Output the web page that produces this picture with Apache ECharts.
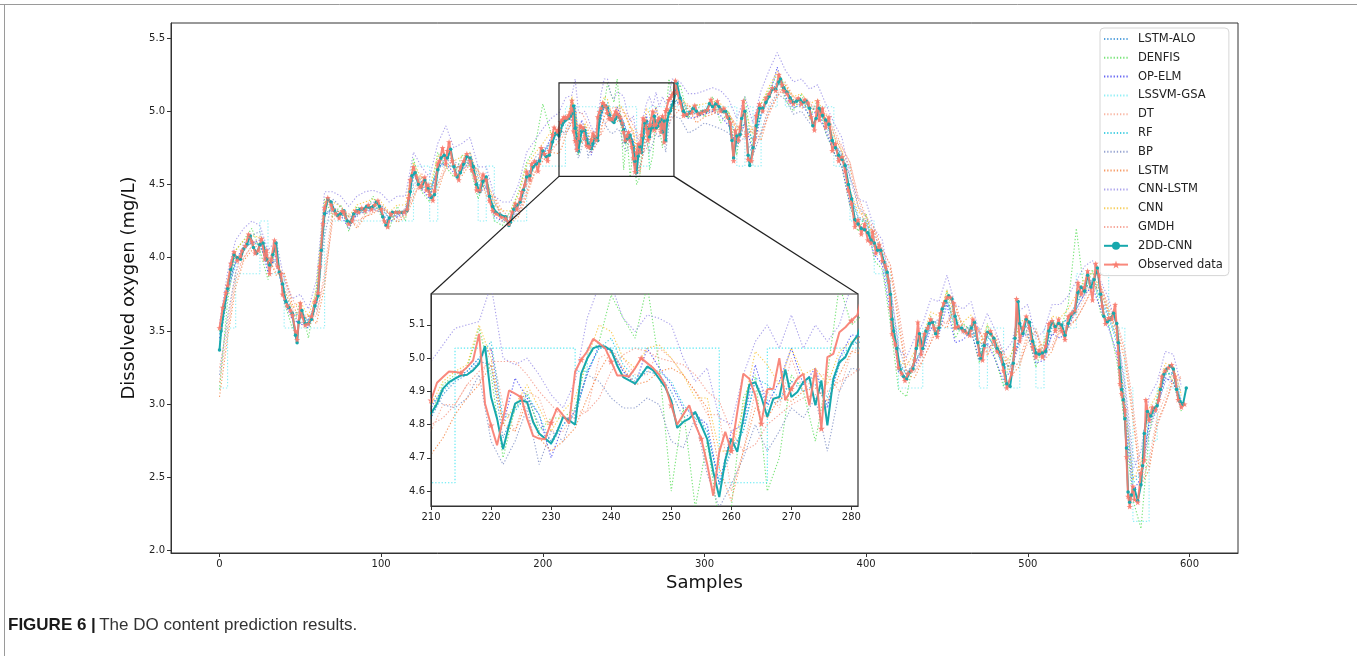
<!DOCTYPE html>
<html><head><meta charset="utf-8">
<script src="https://cdn.jsdelivr.net/npm/echarts@6/dist/echarts.min.js"></script>
<style>html,body{margin:0;padding:0;background:#fff;}#c{width:1357px;height:656px;}</style>
</head><body><div id="c"></div>
<script>
// ---------- tick labels ----------
const xTicks = [0, 100, 200, 300, 400, 500, 600];
const yTicks = [2.0, 2.5, 3.0, 3.5, 4.0, 4.5, 5.0, 5.5];
const insetXTicks = [210, 220, 230, 240, 250, 260, 270, 280];
const insetYTicks = [4.6, 4.7, 4.8, 4.9, 5.0, 5.1];

// ---------- sample positions shared by the 11 comparison models ----------
const modelSamples = [0,5,10,15,20,25,30,35,40,45,50,55,60,65,70,75,80,85,90,95,100,105,110,115,120,125,130,135,140,145,150,155,160,165,170,175,180,185,190,195,200,205,
210,212,214,216,218,220,222,224,226,228,230,232,234,236,238,240,242,244,246,248,250,252,254,256,258,260,262,264,266,268,270,272,274,276,278,280,
285,290,295,300,305,310,315,320,325,330,335,340,345,350,355,360,365,370,375,380,385,390,395,400,405,410,415,420,425,430,435,440,445,450,455,460,465,470,475,480,485,490,495,500,505,510,515,520,525,530,535,540,545,550,555,560,565,570,575,580,585,590,595];

const lstmAlo = [3.40,3.75,3.96,4.05,4.12,4.08,3.95,3.98,3.76,3.60,3.62,3.57,3.70,4.28,4.35,4.30,4.25,4.29,4.34,4.33,4.35,4.27,4.29,4.32,4.55,4.52,4.45,4.60,4.68,4.62,4.62,4.68,4.50,4.48,4.33,4.26,4.28,4.35,4.55,4.65,4.70,4.78,
4.82,4.89,4.93,4.95,4.99,4.98,4.76,4.85,4.88,4.80,4.75,4.82,4.82,4.96,5.03,5.03,4.96,4.93,4.96,4.95,4.90,4.82,4.84,4.78,4.62,4.72,4.78,4.93,4.86,4.87,4.93,4.90,4.92,4.86,4.98,5.04,
5.10,5.00,4.98,5.01,5.00,5.02,4.96,4.83,4.92,4.80,4.97,5.10,5.20,5.15,5.06,5.06,5.02,5.01,4.93,4.79,4.70,4.45,4.28,4.25,4.08,4.01,3.72,3.30,3.20,3.28,3.38,3.55,3.57,3.70,3.55,3.50,3.54,3.37,3.46,3.39,3.25,3.27,3.46,3.55,3.35,3.35,3.52,3.55,3.58,3.68,3.78,3.86,3.73,3.60,3.45,3.02,2.50,2.52,2.88,3.00,3.20,3.22,3.02];

const denfis = [3.10,3.70,4.05,4.12,4.20,4.05,3.85,4.08,3.70,3.52,3.70,3.45,3.80,4.40,4.28,4.36,4.18,4.35,4.30,4.42,4.28,4.20,4.35,4.25,4.68,4.45,4.38,4.72,4.62,4.55,4.70,4.62,4.40,4.55,4.25,4.22,4.32,4.45,4.65,4.75,5.05,4.85,
4.83,4.92,4.95,4.97,5.09,4.95,4.70,4.85,4.90,4.78,4.82,4.82,4.85,5.00,5.05,5.19,5.12,5.06,5.22,4.98,4.60,4.85,4.55,4.75,4.50,4.55,4.88,4.95,4.60,4.70,4.95,4.90,4.75,4.95,5.22,5.10,
5.18,4.95,5.05,4.96,5.10,4.92,5.00,4.70,5.10,4.70,5.05,5.15,5.25,5.08,5.00,5.12,4.95,5.08,4.85,4.72,4.62,4.35,4.18,4.30,3.98,3.92,3.55,3.10,3.05,3.35,3.45,3.60,3.48,3.78,3.45,3.55,3.50,3.28,3.55,3.30,3.12,3.35,3.55,3.48,3.25,3.42,3.58,3.50,3.68,4.20,3.75,3.92,3.62,3.55,3.30,2.85,2.35,2.15,2.80,3.05,3.25,3.15,2.95];

const opElm = [3.45,3.78,3.98,4.08,4.10,4.12,3.90,4.02,3.70,3.58,3.55,3.52,3.72,4.30,4.32,4.29,4.20,4.30,4.31,4.33,4.31,4.24,4.28,4.30,4.58,4.47,4.40,4.62,4.64,4.58,4.60,4.65,4.44,4.48,4.28,4.25,4.25,4.36,4.56,4.64,4.70,4.82,
4.85,4.91,4.94,4.96,5.00,5.03,4.80,4.94,4.88,4.83,4.70,4.80,4.84,4.95,5.04,5.02,4.96,4.92,5.03,4.97,4.92,4.85,4.83,4.80,4.62,4.78,4.80,4.98,4.86,4.93,5.03,4.92,4.97,4.85,5.00,5.07,
5.05,4.95,4.96,4.98,5.00,4.97,4.90,4.76,4.92,4.72,4.98,5.10,5.30,5.10,5.02,5.05,4.97,5.00,4.86,4.72,4.62,4.36,4.22,4.20,4.02,3.95,3.62,3.22,3.18,3.26,3.35,3.52,3.48,3.68,3.42,3.44,3.50,3.30,3.42,3.30,3.16,3.24,3.45,3.48,3.28,3.30,3.48,3.45,3.52,3.65,3.75,3.80,3.65,3.52,3.35,2.92,2.40,2.50,2.86,2.98,3.18,3.15,2.96];

const lssvmGsa = [3.11,3.52,3.89,3.89,3.89,4.25,3.89,3.89,3.52,3.52,3.52,3.52,3.52,4.25,4.25,4.25,4.25,4.25,4.25,4.25,4.25,4.25,4.25,4.25,4.625,4.625,4.25,4.625,4.625,4.625,4.625,4.625,4.25,4.625,4.25,4.25,4.25,4.25,4.625,4.625,4.625,4.625,
4.625,4.625,5.03,5.03,5.03,5.03,5.03,5.03,5.03,5.03,5.03,5.03,4.96,5.03,5.03,5.03,5.03,5.03,5.03,5.03,5.03,5.03,5.03,5.03,4.625,4.625,4.625,4.625,5.03,5.03,5.03,5.03,5.03,5.03,5.03,5.03,
5.03,5.03,5.03,5.03,5.03,5.03,5.03,4.625,5.03,4.625,5.03,5.03,5.2,5.03,5.03,5.03,5.03,5.03,5.03,4.625,4.625,4.25,4.25,4.25,3.89,3.89,3.52,3.11,3.11,3.11,3.52,3.52,3.52,3.52,3.52,3.52,3.52,3.11,3.52,3.52,3.11,3.11,3.52,3.52,3.11,3.52,3.52,3.52,3.52,3.89,3.89,3.89,3.89,3.52,3.52,3.11,2.2,2.2,2.75,3.11,3.11,3.11,3.11];

const dt = [3.25,3.55,3.90,4.00,4.08,4.15,4.00,3.90,3.85,3.65,3.55,3.60,3.60,3.90,4.35,4.30,4.28,4.22,4.30,4.32,4.36,4.30,4.25,4.30,4.45,4.58,4.45,4.50,4.65,4.65,4.58,4.68,4.58,4.45,4.40,4.25,4.25,4.30,4.45,4.62,4.68,4.75,
4.78,4.86,4.86,4.92,4.92,5.03,4.86,4.78,4.90,4.88,4.78,4.78,4.84,4.84,5.00,5.02,5.00,4.95,4.95,5.03,5.00,4.95,4.90,4.83,4.83,4.60,4.72,4.90,4.90,4.85,5.00,4.90,4.95,4.95,4.90,5.02,
5.05,5.05,4.95,5.00,5.00,5.02,4.98,4.90,4.85,4.90,4.85,5.05,5.12,5.20,5.10,5.05,5.05,5.00,5.00,4.85,4.75,4.65,4.40,4.25,4.20,4.05,3.95,3.60,3.22,3.22,3.35,3.45,3.58,3.55,3.70,3.52,3.50,3.52,3.35,3.48,3.35,3.22,3.30,3.50,3.52,3.32,3.40,3.55,3.55,3.62,3.72,3.85,3.82,3.65,3.55,3.35,2.95,2.45,2.62,2.92,3.05,3.22,3.18];

const rf = [3.48,3.80,3.97,4.06,4.10,4.09,3.94,3.99,3.74,3.62,3.63,3.56,3.72,4.30,4.34,4.30,4.24,4.30,4.32,4.34,4.33,4.27,4.30,4.31,4.58,4.50,4.44,4.62,4.65,4.61,4.63,4.66,4.48,4.49,4.31,4.28,4.27,4.37,4.56,4.65,4.71,4.79,
4.86,4.90,4.94,4.96,5.00,5.05,4.82,4.84,4.89,4.83,4.74,4.80,4.83,4.96,5.03,5.06,4.98,4.94,4.97,4.96,4.93,4.86,4.82,4.78,4.62,4.73,4.78,4.94,4.92,4.88,4.93,4.92,4.95,4.88,5.00,5.04,
5.07,4.99,4.99,5.00,5.01,5.01,4.95,4.82,4.93,4.80,4.98,5.11,5.20,5.14,5.06,5.06,5.01,5.02,4.91,4.78,4.69,4.43,4.27,4.24,4.07,4.00,3.70,3.28,3.20,3.29,3.39,3.56,3.55,3.71,3.53,3.50,3.54,3.36,3.47,3.38,3.24,3.27,3.48,3.54,3.34,3.35,3.53,3.54,3.59,3.69,3.79,3.84,3.71,3.59,3.42,3.00,2.46,2.52,2.90,3.01,3.21,3.21,3.01];

const bp = [3.20,3.60,3.90,4.10,4.15,4.18,4.00,3.95,3.80,3.62,3.55,3.58,3.65,4.15,4.40,4.35,4.28,4.28,4.35,4.38,4.36,4.30,4.28,4.34,4.50,4.55,4.48,4.58,4.70,4.66,4.62,4.72,4.55,4.48,4.38,4.28,4.25,4.32,4.50,4.68,4.74,4.78,
4.90,4.86,4.85,4.88,4.95,4.75,4.68,4.75,4.85,4.68,4.78,4.75,4.85,4.95,4.93,4.88,4.85,4.85,4.88,4.86,4.75,4.73,4.82,4.65,4.55,4.62,4.70,4.80,4.72,4.78,4.85,4.82,4.88,4.72,4.90,4.97,
4.95,4.85,4.88,4.92,4.90,4.88,4.85,4.78,4.82,4.70,4.85,5.02,5.12,5.08,4.98,5.00,4.92,4.95,4.88,4.75,4.72,4.55,4.35,4.28,4.15,4.05,3.80,3.40,3.22,3.28,3.38,3.55,3.58,3.70,3.60,3.48,3.52,3.42,3.40,3.40,3.28,3.25,3.42,3.52,3.38,3.32,3.48,3.52,3.55,3.65,3.75,3.85,3.78,3.62,3.50,3.15,2.65,2.48,2.80,2.98,3.15,3.22,3.08];

const lstm = [3.05,3.45,3.80,3.98,4.05,4.10,4.02,3.88,3.90,3.68,3.58,3.60,3.55,3.80,4.30,4.32,4.28,4.20,4.28,4.30,4.34,4.30,4.24,4.28,4.40,4.56,4.45,4.45,4.62,4.64,4.56,4.64,4.60,4.42,4.42,4.26,4.24,4.28,4.42,4.58,4.66,4.72,
4.71,4.76,4.83,4.88,4.92,4.98,4.80,4.78,4.87,4.76,4.72,4.75,4.79,4.88,4.96,5.02,4.97,4.92,4.93,4.96,4.97,4.95,4.90,4.85,4.67,4.57,4.72,4.85,4.82,4.88,4.87,4.90,4.91,4.87,4.95,5.02,
5.00,5.02,4.92,4.96,4.98,5.00,4.97,4.88,4.82,4.88,4.80,5.00,5.10,5.18,5.08,5.02,5.04,4.98,4.98,4.84,4.72,4.62,4.35,4.22,4.18,4.00,3.92,3.55,3.20,3.18,3.30,3.42,3.55,3.52,3.68,3.50,3.46,3.50,3.33,3.45,3.32,3.20,3.26,3.46,3.50,3.30,3.36,3.52,3.52,3.58,3.68,3.80,3.80,3.62,3.52,3.30,2.90,2.45,2.55,2.88,3.00,3.18,3.16];

const cnnLstm = [3.55,3.90,4.12,4.20,4.25,4.22,4.05,4.12,3.85,3.72,3.75,3.65,3.85,4.45,4.45,4.42,4.35,4.42,4.45,4.46,4.44,4.38,4.42,4.42,4.72,4.62,4.55,4.78,4.90,4.75,4.78,4.82,4.62,4.62,4.42,4.38,4.38,4.50,4.72,4.80,4.88,4.95,
4.99,5.04,5.09,5.10,5.11,5.22,5.00,4.98,5.00,4.95,4.89,4.85,4.93,5.12,5.22,5.22,5.12,5.08,5.13,5.12,5.10,5.00,4.93,4.97,4.82,4.80,4.95,5.05,5.10,5.03,5.13,5.03,5.10,5.05,5.10,5.22,
5.20,5.12,5.12,5.14,5.16,5.14,5.08,4.95,5.10,4.92,5.14,5.28,5.40,5.28,5.20,5.22,5.15,5.18,5.05,4.92,4.82,4.55,4.40,4.38,4.20,4.12,3.80,3.38,3.32,3.45,3.55,3.72,3.70,3.88,3.68,3.65,3.70,3.48,3.62,3.50,3.35,3.42,3.64,3.68,3.45,3.50,3.68,3.68,3.74,3.84,3.94,3.98,3.84,3.72,3.52,3.10,2.55,2.68,3.05,3.15,3.36,3.34,3.12];

const cnn = [3.50,3.85,4.05,4.12,4.15,4.14,3.97,4.05,3.78,3.66,3.70,3.60,3.78,4.38,4.38,4.35,4.28,4.36,4.38,4.40,4.38,4.31,4.36,4.36,4.65,4.54,4.48,4.69,4.72,4.66,4.69,4.72,4.52,4.55,4.36,4.32,4.32,4.43,4.63,4.71,4.78,4.86,
4.86,4.93,4.96,4.98,5.10,5.00,4.80,4.86,4.92,4.85,4.78,4.84,4.88,5.00,5.10,5.08,5.00,4.97,5.03,5.04,5.00,4.95,4.88,4.88,4.72,4.72,4.85,5.02,4.98,4.92,5.03,4.95,4.97,4.92,5.02,5.05,
5.10,5.03,5.04,5.05,5.07,5.05,4.99,4.86,5.00,4.84,5.05,5.17,5.27,5.18,5.10,5.12,5.05,5.08,4.95,4.82,4.73,4.46,4.31,4.29,4.10,4.04,3.72,3.30,3.26,3.36,3.46,3.63,3.60,3.78,3.58,3.56,3.61,3.40,3.54,3.43,3.28,3.34,3.56,3.59,3.38,3.42,3.60,3.59,3.65,3.75,3.85,3.90,3.76,3.64,3.46,3.02,2.48,2.60,2.97,3.07,3.28,3.26,3.06];

const gmdh = [3.15,3.50,3.85,4.00,4.08,4.12,4.05,3.95,3.88,3.72,3.62,3.60,3.62,3.85,4.25,4.32,4.30,4.25,4.28,4.31,4.34,4.31,4.27,4.29,4.42,4.52,4.48,4.50,4.60,4.64,4.60,4.64,4.60,4.50,4.42,4.32,4.27,4.30,4.45,4.58,4.66,4.72,
4.80,4.82,4.86,4.92,4.96,4.99,4.99,4.99,4.95,4.90,4.86,4.82,4.82,4.84,4.88,4.96,5.01,5.03,5.02,5.00,4.99,4.98,4.95,4.90,4.87,4.78,4.72,4.74,4.80,4.83,4.86,4.88,4.89,4.90,4.93,4.95,
5.02,5.04,4.98,4.98,4.99,5.00,4.98,4.90,4.86,4.86,4.84,4.98,5.10,5.16,5.10,5.06,5.05,5.02,4.98,4.88,4.76,4.65,4.42,4.28,4.20,4.06,3.95,3.65,3.30,3.22,3.30,3.42,3.54,3.56,3.64,3.54,3.50,3.50,3.38,3.42,3.35,3.26,3.28,3.42,3.50,3.36,3.38,3.50,3.54,3.58,3.68,3.78,3.80,3.68,3.56,3.38,3.00,2.55,2.58,2.85,3.00,3.15,3.18];

// ---------- proposed model and observations: [sample, value] ----------
const cnn2dd = [[0,3.37],[1,3.50],[3,3.66],[5,3.79],[7,3.92],[9,4.02],[11,4.00],[13,3.99],[15,4.06],[17,4.09],[19,4.15],[21,4.07],[23,4.03],[25,4.09],[27,4.10],[29,3.99],[31,3.95],[33,4.02],[35,4.10],[37,3.90],[39,3.82],[41,3.70],[43,3.66],[45,3.62],[47,3.47],[48,3.42],[49,3.56],[51,3.64],[53,3.55],[55,3.55],[57,3.58],[59,3.67],[61,3.74],[63,4.05],[65,4.30],[67,4.40],[69,4.38],[71,4.32],[73,4.29],[75,4.30],[77,4.32],[79,4.25],[81,4.24],[83,4.30],[85,4.32],[87,4.33],[89,4.33],[91,4.35],[93,4.34],[95,4.35],[97,4.38],[99,4.35],[101,4.28],[103,4.22],[105,4.27],[107,4.31],[110,4.31],[113,4.31],[116,4.32],[118,4.45],[119,4.56],[121,4.58],[123,4.50],[125,4.48],[127,4.53],[129,4.47],[131,4.41],[133,4.43],[135,4.60],[137,4.68],[139,4.70],[141,4.68],[143,4.74],[145,4.62],[147,4.55],[149,4.58],[151,4.64],[153,4.69],[155,4.68],[157,4.62],[159,4.50],[161,4.45],[163,4.52],[165,4.55],[167,4.42],[169,4.35],[171,4.31],[174,4.29],[177,4.28],[179,4.22],[180,4.24],[182,4.33],[184,4.36],[186,4.38],[188,4.46],[190,4.55],[192,4.56],[194,4.62],[196,4.64],[198,4.66],[200,4.73],[202,4.69],[204,4.70],[206,4.79],[208,4.85],
[210,4.833],[211,4.863],[212,4.908],[213,4.928],[214,4.938],[215,4.948],[216,4.95],[217,4.963],[218,4.983],[219,5.036],[220,4.883],[221,4.818],[222,4.726],[223,4.798],[224,4.863],[225,4.873],[226,4.868],[227,4.808],[228,4.773],[229,4.758],[230,4.743],[231,4.778],[232,4.823],[233,4.813],[234,4.80],[235,4.953],[236,4.998],[237,5.03],[238,5.036],[239,5.035],[240,5.023],[241,4.978],[242,4.943],[243,4.933],[244,4.923],[245,4.948],[246,4.975],[247,4.963],[248,4.938],[249,4.913],[250,4.873],[251,4.79],[252,4.808],[253,4.818],[254,4.838],[255,4.798],[256,4.756],[257,4.658],[258,4.582],[259,4.693],[260,4.758],[261,4.718],[262,4.818],[263,4.92],[264,4.928],[265,4.883],[266,4.823],[267,4.878],[268,4.883],[269,4.966],[270,4.883],[271,4.898],[272,4.928],[273,4.943],[274,4.858],[275,4.933],[276,4.798],[277,4.938],[278,4.988],[279,5.003],[280,5.043],[281,5.068],
[282,5.12],[283,5.19],[285,5.09],[287,5.00],[289,4.97],[291,4.99],[293,5.02],[295,5.00],[297,4.98],[299,5.00],[301,5.00],[303,5.05],[305,5.03],[307,5.05],[309,5.03],[311,5.00],[313,5.00],[315,4.95],[317,4.80],[318,4.68],[320,4.83],[322,4.84],[323,4.95],[325,5.00],[327,4.70],[328,4.63],[330,4.75],[332,4.90],[334,5.02],[336,5.02],[338,5.06],[340,5.10],[342,5.15],[344,5.15],[346,5.20],[347,5.22],[349,5.16],[351,5.13],[353,5.09],[355,5.06],[357,5.07],[359,5.08],[361,5.06],[363,5.07],[365,5.02],[367,4.90],[369,4.95],[371,5.02],[373,4.97],[375,4.94],[377,4.91],[379,4.80],[381,4.75],[383,4.70],[385,4.67],[387,4.63],[389,4.50],[391,4.40],[393,4.26],[395,4.23],[397,4.20],[399,4.19],[401,4.17],[403,4.12],[405,4.10],[407,4.05],[409,4.05],[411,3.97],[413,3.90],[415,3.75],[416,3.58],[417,3.50],[419,3.38],[421,3.24],[423,3.19],[425,3.17],[427,3.22],[429,3.24],[431,3.38],[433,3.48],[435,3.38],[437,3.50],[439,3.55],[441,3.56],[443,3.48],[445,3.52],[447,3.65],[449,3.70],[451,3.74],[453,3.72],[455,3.60],[457,3.52],[459,3.52],[461,3.50],[463,3.48],[465,3.52],[467,3.56],[469,3.42],[471,3.31],[473,3.40],[475,3.49],[477,3.48],[479,3.45],[481,3.38],[483,3.35],[485,3.27],[487,3.14],[489,3.12],[491,3.28],[492,3.45],[494,3.70],[495,3.55],[497,3.48],[499,3.58],[501,3.56],[503,3.43],[505,3.35],[507,3.34],[509,3.35],[511,3.36],[513,3.50],[515,3.56],[517,3.53],[519,3.55],[521,3.54],[523,3.47],[525,3.55],[527,3.61],[529,3.63],[531,3.76],[533,3.80],[535,3.77],[537,3.88],[539,3.80],[541,3.85],[543,3.93],[545,3.75],[547,3.60],[549,3.56],[551,3.58],[553,3.62],[555,3.55],[556,3.42],[557,3.25],[558,3.10],[559,3.03],[560,2.90],[561,2.70],[562,2.40],[563,2.33],[564,2.38],[566,2.42],[568,2.34],[570,2.45],[571,2.58],[572,2.80],[574,2.95],[576,2.92],[578,2.97],[580,2.99],[582,3.10],[584,3.20],[586,3.24],[588,3.26],[590,3.24],[592,3.10],[594,3.02],[596,3.00],[598,3.11]];

const observed = [[0,3.52],[2,3.66],[4,3.76],[5,3.81],[7,3.96],[9,4.04],[11,3.98],[13,4.01],[14,4.05],[16,4.08],[18,4.16],[20,4.11],[22,4.03],[24,4.05],[26,4.13],[28,3.99],[29,4.05],[31,3.89],[32,3.99],[34,4.12],[36,3.94],[38,3.89],[39,3.75],[42,3.67],[44,3.64],[45,3.61],[47,3.50],[48,3.44],[50,3.69],[51,3.60],[53,3.54],[55,3.55],[57,3.60],[59,3.70],[61,3.76],[62,3.94],[64,4.23],[65,4.34],[67,4.41],[69,4.36],[70,4.33],[72,4.30],[74,4.27],[76,4.32],[77,4.31],[80,4.23],[82,4.25],[84,4.32],[86,4.31],[88,4.34],[90,4.32],[92,4.36],[94,4.33],[96,4.36],[98,4.39],[100,4.33],[102,4.25],[104,4.21],[106,4.30],[109,4.31],[111,4.31],[114,4.31],[116,4.33],[117,4.41],[118,4.53],[120,4.62],[122,4.55],[124,4.48],[125,4.49],[127,4.55],[128,4.46],[129,4.50],[130,4.43],[132,4.39],[133,4.46],[135,4.64],[136,4.66],[138,4.75],[140,4.64],[141,4.73],[142,4.79],[144,4.66],[146,4.57],[148,4.53],[149,4.62],[151,4.66],[153,4.71],[155,4.66],[156,4.60],[158,4.55],[159,4.46],[161,4.46],[163,4.57],[165,4.53],[167,4.39],[169,4.32],[171,4.30],[174,4.28],[177,4.27],[179,4.23],[181,4.31],[183,4.37],[184,4.33],[186,4.40],[187,4.45],[189,4.50],[190,4.59],[192,4.53],[193,4.64],[195,4.66],[197,4.59],[199,4.75],[201,4.71],[203,4.66],[204,4.73],[206,4.84],[207,4.89],[209,4.86],
[210,4.873],[211,4.926],[212,4.943],[213,4.96],[214,4.958],[215,4.956],[216,4.973],[217,4.993],[218,5.073],[219,4.863],[220,4.798],[221,4.738],[222,4.818],[223,4.903],[224,4.893],[225,4.883],[226,4.818],[227,4.766],[228,4.758],[229,4.756],[230,4.806],[231,4.85],[232,4.828],[233,4.803],[234,4.96],[235,4.995],[236,5.02],[237,5.058],[238,5.045],[239,5.03],[240,4.99],[241,4.948],[242,4.948],[243,4.945],[244,4.97],[245,5.0],[246,4.985],[247,4.97],[248,4.95],[249,4.92],[250,4.858],[251,4.80],[252,4.83],[253,4.858],[254,4.80],[255,4.758],[256,4.68],[257,4.586],[258,4.718],[259,4.778],[260,4.721],[261,4.838],[262,4.953],[263,4.938],[264,4.888],[265,4.803],[266,4.906],[267,4.908],[268,5.0],[269,4.873],[270,4.908],[271,4.938],[272,4.953],[273,4.858],[274,4.968],[275,4.788],[276,5.003],[277,5.013],[278,5.078],[279,5.093],[280,5.113],[281,5.13],
[282,5.21],[283,5.13],[285,5.06],[287,4.97],[289,4.98],[292,4.99],[294,5.04],[296,4.98],[298,4.99],[300,5.00],[302,5.01],[304,5.08],[306,5.01],[308,5.07],[310,5.00],[312,5.02],[314,4.96],[316,4.92],[318,4.66],[319,4.87],[321,4.80],[322,4.89],[324,5.07],[326,4.84],[327,4.67],[329,4.66],[331,4.81],[332,4.97],[334,5.05],[336,5.00],[338,5.09],[340,5.12],[342,5.16],[344,5.14],[346,5.25],[348,5.18],[349,5.14],[351,5.12],[353,5.07],[355,5.05],[358,5.09],[360,5.05],[362,5.08],[364,5.06],[366,4.96],[368,4.87],[370,5.07],[371,4.94],[373,5.02],[375,4.89],[377,4.96],[379,4.73],[381,4.78],[383,4.66],[385,4.69],[387,4.59],[389,4.46],[391,4.37],[393,4.21],[395,4.26],[397,4.16],[399,4.23],[401,4.12],[403,4.10],[404,4.18],[406,4.03],[408,4.09],[410,3.98],[412,3.94],[414,3.84],[415,3.66],[416,3.48],[418,3.41],[420,3.25],[422,3.21],[424,3.16],[426,3.21],[428,3.23],[430,3.30],[432,3.56],[434,3.34],[436,3.48],[438,3.52],[440,3.58],[442,3.52],[444,3.46],[446,3.62],[448,3.69],[450,3.73],[452,3.73],[454,3.69],[455,3.52],[457,3.53],[460,3.50],[462,3.49],[464,3.47],[466,3.58],[468,3.52],[470,3.34],[472,3.30],[474,3.48],[477,3.50],[479,3.43],[481,3.36],[483,3.34],[485,3.23],[487,3.11],[490,3.21],[492,3.38],[493,3.72],[495,3.43],[497,3.52],[499,3.60],[501,3.52],[503,3.39],[505,3.32],[507,3.37],[509,3.32],[511,3.40],[513,3.55],[515,3.57],[517,3.50],[519,3.58],[521,3.50],[523,3.44],[525,3.60],[527,3.62],[529,3.64],[531,3.83],[533,3.75],[535,3.80],[537,3.91],[540,3.71],[542,3.96],[544,3.88],[546,3.67],[548,3.55],[550,3.59],[552,3.58],[554,3.68],[556,3.35],[557,3.14],[558,3.07],[560,2.96],[561,2.64],[562,2.37],[563,2.30],[565,2.44],[566,2.35],[568,2.33],[570,2.53],[572,2.62],[573,3.03],[575,2.89],[577,2.98],[579,2.96],[581,3.03],[583,3.19],[585,3.23],[587,3.25],[589,3.27],[591,3.19],[593,3.03],[595,2.98],[597,3.00]];

// ---------- styling ----------
const FONT = 'DejaVu Sans';
const STAR = 'path://M0,-10L2.35,-3.24L9.51,-3.09L3.8,1.24L5.88,8.09L0,4L-5.88,8.09L-3.8,1.24L-9.51,-3.09L-2.35,-3.24Z';
const models = [
  {name:'LSTM-ALO', color:'#2a8ad4', vals:lstmAlo},
  {name:'DENFIS', color:'#55dd55', vals:denfis},
  {name:'OP-ELM', color:'#3c3cf0', vals:opElm},
  {name:'LSSVM-GSA', color:'#1ee0ee', vals:lssvmGsa, step:'end'},
  {name:'DT', color:'#f7a48c', vals:dt},
  {name:'RF', color:'#1cc4dc', vals:rf},
  {name:'BP', color:'#7c8cc4', vals:bp},
  {name:'LSTM', color:'#f4803c', vals:lstm},
  {name:'CNN-LSTM', color:'#958ae6', vals:cnnLstm},
  {name:'CNN', color:'#f5c030', vals:cnn},
  {name:'GMDH', color:'#f4907e', vals:gmdh}
];
const TEAL = '#17a8ad', SALMON = '#f87b6e';

function pairs(xs, ys){ const n = Math.min(xs.length, ys.length); const o = []; for (let i=0;i<n;i++) o.push([xs[i], ys[i]]); return o; }

const series = [];
[0,1].forEach(g => {
  models.forEach(m => {
    series.push({
      name:m.name, type:'line', xAxisIndex:g, yAxisIndex:g,
      data:pairs(modelSamples, m.vals), symbol:'none', showSymbol:false,
      step:m.step || false, silent:true, z: g ? 5 : 2,
      lineStyle:{color:m.color, width:1.1, type:[1.3,1.9], opacity: m.step ? (g ? 0.75 : 0.5) : 0.8},
      itemStyle:{color:m.color}
    });
  });
  series.push({
    name:'2DD-CNN', type:'line', xAxisIndex:g, yAxisIndex:g, data:cnn2dd,
    symbol:'circle', symbolSize: g ? 0 : 3.5, showSymbol: g ? false : true, silent:true, z: g ? 5 : 2,
    lineStyle:{color:TEAL, width:2}, itemStyle:{color:TEAL}
  });
  series.push({
    name:'Observed data', type:'line', xAxisIndex:g, yAxisIndex:g, data:observed,
    symbol:STAR, symbolKeepAspect:true,
    symbolSize: g ? (v => (v[0] % 5 === 0 ? 7 : 0)) : 6,
    silent:true, z: g ? 5 : 2,
    lineStyle:{color:SALMON, width:2, opacity:0.9}, itemStyle:{color:SALMON, opacity:0.9}
  });
});

const MAIN = {left:171, top:23, width:1067, height:530};
const INSET = {left:431, top:294, width:427, height:212};

const labelStyle = {fontFamily:FONT, fontSize:10, color:'#222'};
const tickStyle = {show:true, inside:false, length:4, lineStyle:{color:'#333', width:1}};
const axisLineStyle = {show:true, onZero:false, lineStyle:{color:'#333'}};

const legendData = models.map(m => ({name:m.name, itemStyle:{opacity:0}}))
  .concat([{name:'2DD-CNN'}, {name:'Observed data'}]);

const option = {
  animation:false,
  backgroundColor:'#fff',
  grid:[
    {left:MAIN.left, top:MAIN.top, width:MAIN.width, height:MAIN.height, show:true, borderColor:'#333', borderWidth:1, backgroundColor:'transparent'},
    {left:INSET.left, top:INSET.top, width:INSET.width, height:INSET.height, show:false}
  ],
  xAxis:[
    {type:'value', gridIndex:0, min:-30, max:630, splitLine:{show:false},
     axisLine:axisLineStyle,
     axisTick:Object.assign({customValues:xTicks}, tickStyle),
     axisLabel:Object.assign({customValues:xTicks, margin:6, formatter:v=>String(v)}, labelStyle),
     name:'Samples', nameLocation:'middle', nameGap:19,
     nameTextStyle:{fontFamily:FONT, fontSize:18, color:'#111'}},
    {type:'value', gridIndex:1, min:210, max:281.1, splitLine:{show:false}, z:6,
     axisLine:axisLineStyle,
     axisTick:Object.assign({customValues:insetXTicks}, tickStyle),
     axisLabel:Object.assign({customValues:insetXTicks, margin:6, formatter:v=>String(v)}, labelStyle)}
  ],
  yAxis:[
    {type:'value', gridIndex:0, min:1.984, max:5.602, splitLine:{show:false},
     axisLine:axisLineStyle,
     axisTick:Object.assign({customValues:yTicks}, tickStyle),
     axisLabel:Object.assign({customValues:yTicks, margin:6, formatter:v=>v.toFixed(1)}, labelStyle),
     name:'Dissolved oxygen (mg/L)', nameLocation:'middle', nameGap:27,
     nameTextStyle:{fontFamily:FONT, fontSize:18, color:'#111'}},
    {type:'value', gridIndex:1, min:4.555, max:5.193, splitLine:{show:false}, z:6,
     axisLine:axisLineStyle,
     axisTick:Object.assign({customValues:insetYTicks}, tickStyle),
     axisLabel:Object.assign({customValues:insetYTicks, margin:6, formatter:v=>v.toFixed(1)}, labelStyle)}
  ],
  legend:{
    show:true, orient:'vertical', left:1100, top:28,
    itemWidth:24, itemHeight:10, itemGap:6.8,
    padding:[5,6,5,3],
    backgroundColor:'rgba(255,255,255,0.85)', borderColor:'#d6d6d6', borderWidth:1, borderRadius:4,
    textStyle:{fontFamily:FONT, fontSize:11.5, color:'#222', padding:[0,0,0,5]},
    data:legendData
  },
  series:series
};

const chart = echarts.init(document.getElementById('c'), null, {renderer:'canvas'});
chart.setOption(option);

// zoom-region rectangle, connectors, inset backdrop, caption, figure frame
const pA = chart.convertToPixel({gridIndex:0}, [210, 5.193]);
const pB = chart.convertToPixel({gridIndex:0}, [281.1, 4.555]);
chart.setOption({
  graphic:{elements:[
    {type:'rect', z:4, silent:true, shape:{x:INSET.left, y:INSET.top, width:INSET.width, height:INSET.height},
     style:{fill:'#fff', stroke:'#333', lineWidth:1.2}},
    {type:'rect', z:3, silent:true, shape:{x:pA[0], y:pA[1], width:pB[0]-pA[0], height:pB[1]-pA[1]},
     style:{fill:null, stroke:'#222', lineWidth:1.2}},
    {type:'line', z:3, silent:true, shape:{x1:pA[0], y1:pB[1], x2:INSET.left, y2:INSET.top},
     style:{stroke:'#222', lineWidth:1.2}},
    {type:'line', z:3, silent:true, shape:{x1:pB[0], y1:pB[1], x2:INSET.left+INSET.width, y2:INSET.top},
     style:{stroke:'#222', lineWidth:1.2}},
    {type:'line', z:1, silent:true, shape:{x1:0, y1:4.5, x2:1357, y2:4.5}, style:{stroke:'#9a9a9a', lineWidth:1}},
    {type:'line', z:1, silent:true, shape:{x1:4.5, y1:4, x2:4.5, y2:656}, style:{stroke:'#9a9a9a', lineWidth:1}},
    {type:'text', z:1, silent:true, left:8, top:617,
     style:{text:'{b|FIGURE 6 |} {n|The DO content prediction results.}',
       rich:{b:{fontFamily:'Liberation Sans Narrow, Liberation Sans, Arial', fontWeight:'bold', fontSize:17, fill:'#1a1a1a'},
             n:{fontFamily:'Liberation Sans Narrow, Liberation Sans, Arial', fontSize:17, fill:'#333'}}}}
  ]}
});
</script>
</body></html>
